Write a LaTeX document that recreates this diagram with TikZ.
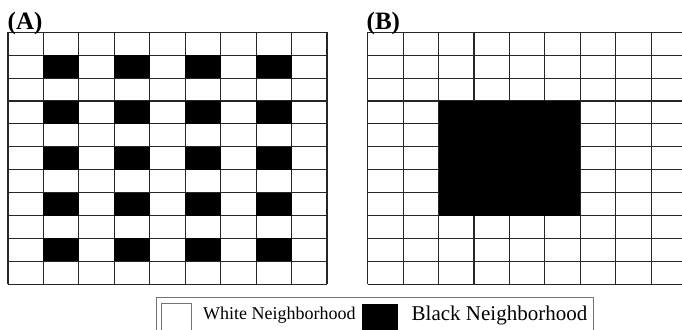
\documentclass[tikz,border=0pt]{standalone}
\usepackage{fontspec}
\setmainfont{Liberation Serif}
\tikzset{
  gridline/.style={draw=black!85, line width=1.1pt},
  blackcell/.style={fill=black},
  framebox/.style={draw=black!55, line width=1pt},
  lab/.style={inner sep=0pt, anchor=base west},
}
\begin{document}
\begin{tikzpicture}[x=1pt,y=-1pt]
\useasboundingbox (0,0) rectangle (682,329);
\clip (0,0) rectangle (682,329);
\fill[white] (0,0) rectangle (682,329);
% ---------- grid A ----------
\def\ax{8}\def\ay{32.3}\def\cw{35.44}\def\rh{22.91}
\foreach \c in {0,...,9}{
  \draw[gridline] (\ax+\c*\cw,\ay) -- (\ax+\c*\cw,\ay+11*\rh);
}
\foreach \r in {0,...,11}{
  \draw[gridline] (\ax,\ay+\r*\rh) -- (\ax+9*\cw,\ay+\r*\rh);
}
\foreach \c in {1,3,5,7}{
  \foreach \r in {1,3,5,7,9}{
    \fill[blackcell] (\ax+\c*\cw,\ay+\r*\rh) rectangle (\ax+\c*\cw+\cw,\ay+\r*\rh+\rh);
  }
}
\node[lab, font=\fontsize{25}{25}\selectfont\bfseries] (labA) at (7.5,30) {(A)};
% ---------- grid B ----------
\def\bx{367.7}
\foreach \c in {0,...,9}{
  \draw[gridline] (\bx+\c*\cw,\ay) -- (\bx+\c*\cw,\ay+11*\rh);
}
\foreach \r in {0,...,11}{
  \draw[gridline] (\bx,\ay+\r*\rh) -- (\bx+9*\cw,\ay+\r*\rh);
}
\fill[blackcell] (\bx+2*\cw,\ay+3*\rh) rectangle (\bx+6*\cw,\ay+8*\rh);
\node[lab, font=\fontsize{25}{25}\selectfont\bfseries] (labB) at (366.5,30) {(B)};
% ---------- legend ----------
\draw[framebox] (156.7,297.6) rectangle (593.3,340);
\draw[framebox] (161.7,303.5) rectangle (191.7,340);
\fill[blackcell] (361.7,303.5) rectangle (397.7,340);
\node[lab, font=\fontsize{18}{18}\selectfont] (wtxt) at (203,319) {White Neighborhood};
\node[lab, font=\fontsize{21}{21}\selectfont] (btxt) at (411.5,320.5) {Black Neighborhood};
\end{tikzpicture}
\end{document}
